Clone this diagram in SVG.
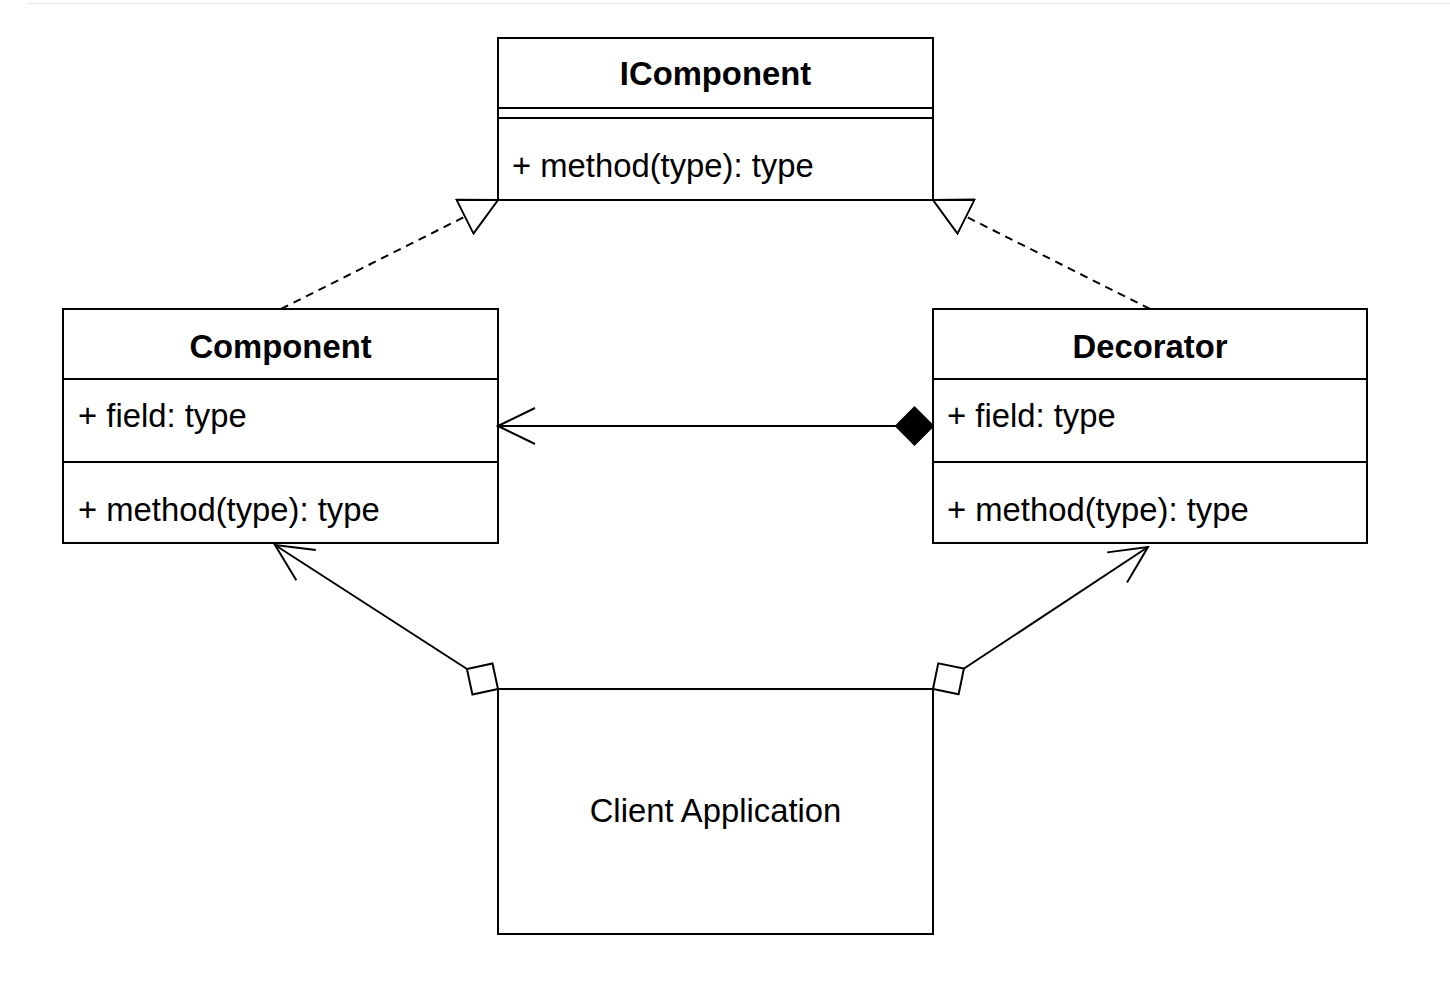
<svg xmlns="http://www.w3.org/2000/svg" width="1450" height="986" viewBox="0 0 1450 986">
<style>
.box{fill:#ffffff;stroke:#000000;stroke-width:2}
.div{stroke:#000000;stroke-width:2;fill:none}
.t{font-family:"Liberation Sans",Arial,Helvetica,sans-serif;font-size:32.8px;fill:#000000}
.b{font-weight:bold;text-anchor:middle}
.c{text-anchor:middle}
.edge{fill:none;stroke:#000000;stroke-width:2}
.dash{stroke-dasharray:8 6}
</style>
<defs>
<marker id="triOpen" viewBox="0 0 40 40" refX="38" refY="20" markerWidth="40" markerHeight="40" markerUnits="userSpaceOnUse" orient="auto">
<path d="M1,1 L38,20 L1,39 Z" fill="#ffffff" stroke="#000000" stroke-width="2" stroke-dasharray="none"/>
</marker>
<marker id="arrowOpen" viewBox="0 0 40 40" refX="38" refY="20" markerWidth="40" markerHeight="40" markerUnits="userSpaceOnUse" orient="auto">
<path d="M1,2 L38,20 L1,38" fill="none" stroke="#000000" stroke-width="2"/>
</marker>
<marker id="diamondFilled" viewBox="0 0 40 40" refX="1" refY="20" markerWidth="40" markerHeight="40" markerUnits="userSpaceOnUse" orient="auto">
<path d="M1,20 L19.5,1.5 L38,20 L19.5,38.5 Z" fill="#000000" stroke="#000000" stroke-width="2"/>
</marker>
<marker id="diamondOpen" viewBox="0 0 40 40" refX="1" refY="20" markerWidth="40" markerHeight="40" markerUnits="userSpaceOnUse" orient="auto">
<path d="M1,20 L19.5,1.5 L38,20 L19.5,38.5 Z" fill="#ffffff" stroke="#000000" stroke-width="2"/>
</marker>
</defs>
<rect x="0" y="0" width="1450" height="986" fill="#ffffff"/>
<line x1="28" y1="3.5" x2="1450" y2="3.5" stroke="#e8e8e8" stroke-width="1.5"/>

<g id="IComponent">
<rect class="box" x="498" y="38" width="435" height="162"/>
<line class="div" x1="498" y1="108" x2="933" y2="108"/>
<line class="div" x1="498" y1="118" x2="933" y2="118"/>
<text class="t b" x="715.5" y="85">IComponent</text>
<text class="t" x="512" y="177">+ method(type): type</text>
</g>

<g id="Component">
<rect class="box" x="63" y="309" width="435" height="234"/>
<line class="div" x1="63" y1="379" x2="498" y2="379"/>
<line class="div" x1="63" y1="462" x2="498" y2="462"/>
<text class="t b" x="280.5" y="358">Component</text>
<text class="t" x="78" y="427">+ field: type</text>
<text class="t" x="78" y="521">+ method(type): type</text>
</g>

<g id="Decorator">
<rect class="box" x="933" y="309" width="434" height="234"/>
<line class="div" x1="933" y1="379" x2="1367" y2="379"/>
<line class="div" x1="933" y1="462" x2="1367" y2="462"/>
<text class="t b" x="1150" y="358">Decorator</text>
<text class="t" x="947" y="427">+ field: type</text>
<text class="t" x="947" y="521">+ method(type): type</text>
</g>

<g id="ClientApplication">
<rect class="box" x="498" y="689" width="435" height="245"/>
<text class="t c" x="715.5" y="822">Client Application</text>
</g>

<g id="connectors">
<path class="edge dash" d="M281,309 L498,200" marker-end="url(#triOpen)"/>
<path class="edge dash" d="M1150,309 L933,200" marker-end="url(#triOpen)"/>
<path class="edge" d="M933,426 L498,426" marker-start="url(#diamondFilled)" marker-end="url(#arrowOpen)"/>
<path class="edge" d="M498,689 L275,545" marker-start="url(#diamondOpen)" marker-end="url(#arrowOpen)"/>
<path class="edge" d="M933,689 L1148,547" marker-start="url(#diamondOpen)" marker-end="url(#arrowOpen)"/>
</g>
</svg>
